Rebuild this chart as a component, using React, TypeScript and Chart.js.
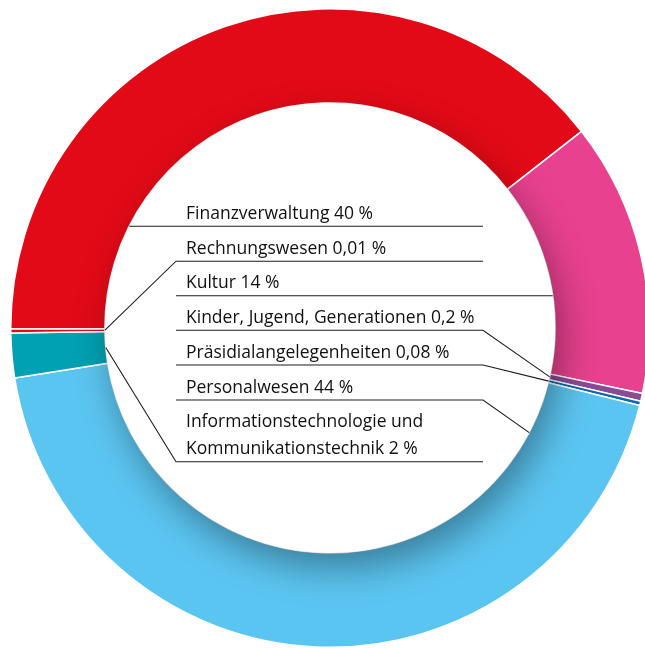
import React, { useEffect, useRef } from "react";
import { Chart, registerables } from "chart.js";

Chart.register(...registerables);

// Slices in clockwise drawing order (starting at the left, just above 9 o'clock)
const categories = [
  "Finanzverwaltung",
  "Kultur",
  "Kinder, Jugend, Generationen",
  "Präsidialangelegenheiten",
  "Personalwesen",
  "Informationstechnologie und\nKommunikationstechnik",
  "Rechnungswesen",
];
const shareLabels = ["40 %", "14 %", "0,2 %", "0,08 %", "44 %", "2 %", "0,01 %"];
// Arc sizes (percent of the full ring)
const arcShares = [39.5, 13.84, 0.4, 0.22, 43.59, 2.26, 0.19];
const sliceColors = ["#e30a17", "#e8418f", "#8a4b96", "#0a69b3", "#5bc5f1", "#00a1b2", "#e30a17"];
// Order of the labels from top to bottom (indices into categories)
const labelOrder = [0, 6, 1, 2, 3, 4, 5];

const ringShadow = {
  id: "ringShadow",
  afterDatasetsDraw(chart: any) {
    const arc = chart.getDatasetMeta(0).data[0] as any;
    if (!arc) return;
    const { x, y, innerRadius, outerRadius } = arc;
    const ctx = chart.ctx as CanvasRenderingContext2D;
    ctx.save();
    ctx.beginPath();
    ctx.arc(x, y, outerRadius + 2, 0, Math.PI * 2);
    ctx.arc(x, y, innerRadius, 0, Math.PI * 2, true);
    ctx.clip();
    ctx.shadowColor = "rgba(0,0,0,0.36)";
    ctx.shadowBlur = 36;
    ctx.shadowOffsetX = 7;
    ctx.shadowOffsetY = 15;
    ctx.beginPath();
    ctx.arc(x, y, innerRadius, 0, Math.PI * 2);
    ctx.fillStyle = "#ffffff";
    ctx.fill();
    ctx.restore();
  },
};

const centerLabels = {
  id: "centerLabels",
  afterDraw(chart: any) {
    const meta = chart.getDatasetMeta(0);
    const arcs = meta.data as any[];
    if (!arcs.length) return;
    const cx = arcs[0].x;
    const cy = arcs[0].y;
    const ri = arcs[0].innerRadius;
    const ctx = chart.ctx as CanvasRenderingContext2D;

    const textX = cx - 144;
    const lineL = cx - 154;
    const lineR = cx + 153;
    const rowYs = [-101.8, -66.8, -32.3, 2.2, 37.0, 72.0, 133.7];

    // leader modes per row
    const modes = ["ringLeft", "elbowLeft", "ringRight", "elbowRight", "elbowRight", "elbowRight", "elbowLeft"];
    const anchorFrac = [0.5, 0.5, 0.5, 0.5, 0.5, 0.087, 0.5];

    const arcPoint = (idx: number, frac: number) => {
      const a = arcs[idx];
      const ang = a.startAngle + (a.endAngle - a.startAngle) * frac;
      return { x: cx + ri * Math.cos(ang), y: cy + ri * Math.sin(ang) };
    };

    ctx.save();
    ctx.strokeStyle = "#1d1d1b";
    ctx.lineWidth = 1.1;
    ctx.fillStyle = "#111111";
    ctx.font = '500 17.5px "Open Sans", sans-serif';
    ctx.textBaseline = "alphabetic";
    ctx.textAlign = "left";

    labelOrder.forEach((idx, row) => {
      const uy = cy + rowYs[row];
      const mode = modes[row];
      ctx.beginPath();
      if (mode === "ringLeft") {
        const dx = Math.sqrt(Math.max(ri * ri - rowYs[row] * rowYs[row], 0));
        ctx.moveTo(cx - dx, uy);
        ctx.lineTo(lineR, uy);
      } else if (mode === "ringRight") {
        const dx = Math.sqrt(Math.max(ri * ri - rowYs[row] * rowYs[row], 0));
        ctx.moveTo(lineL, uy);
        ctx.lineTo(cx + dx, uy);
      } else if (mode === "elbowLeft") {
        const p = arcPoint(idx, anchorFrac[row]);
        ctx.moveTo(lineR, uy);
        ctx.lineTo(lineL, uy);
        ctx.lineTo(p.x, p.y);
      } else {
        const p = arcPoint(idx, anchorFrac[row]);
        ctx.moveTo(lineL, uy);
        ctx.lineTo(lineR, uy);
        ctx.lineTo(p.x, p.y);
      }
      ctx.stroke();

      const parts = categories[idx].split("\n");
      parts[parts.length - 1] = parts[parts.length - 1] + " " + shareLabels[idx];
      const lineH = 27;
      parts.forEach((t, k) => {
        const by = uy - 7.5 - (parts.length - 1 - k) * lineH;
        ctx.fillText(t, textX, by);
      });
    });
    ctx.restore();
  },
};

export default function App() {
  const ref = useRef<HTMLCanvasElement | null>(null);

  useEffect(() => {
    if (!ref.current) return;
    const chart = new Chart(ref.current, {
      type: "doughnut",
      data: {
        labels: categories,
        datasets: [
          {
            data: arcShares,
            backgroundColor: sliceColors,
            borderColor: "#ffffff",
            borderWidth: 1.5,
            hoverOffset: 0,
            offset: 0,
          },
        ],
      },
      options: {
        responsive: false,
        animation: false,
        devicePixelRatio: 1,
        rotation: 269.8,
        cutout: "70.5%",
        layout: { padding: 0 },
        events: [],
        plugins: {
          legend: { display: false },
          tooltip: { enabled: false },
        },
      },
      plugins: [ringShadow, centerLabels],
    });
    return () => chart.destroy();
  }, []);

  return (
    <div
      style={{
        position: "fixed",
        left: 0,
        top: 0,
        width: 645,
        height: 648,
        overflow: "hidden",
        background: "#ffffff",
      }}
    >
      <div style={{ position: "absolute", left: 10, top: 8, width: 640, height: 640 }}>
        <canvas ref={ref} width={640} height={640} style={{ width: 640, height: 640, display: "block" }} />
      </div>
    </div>
  );
}
